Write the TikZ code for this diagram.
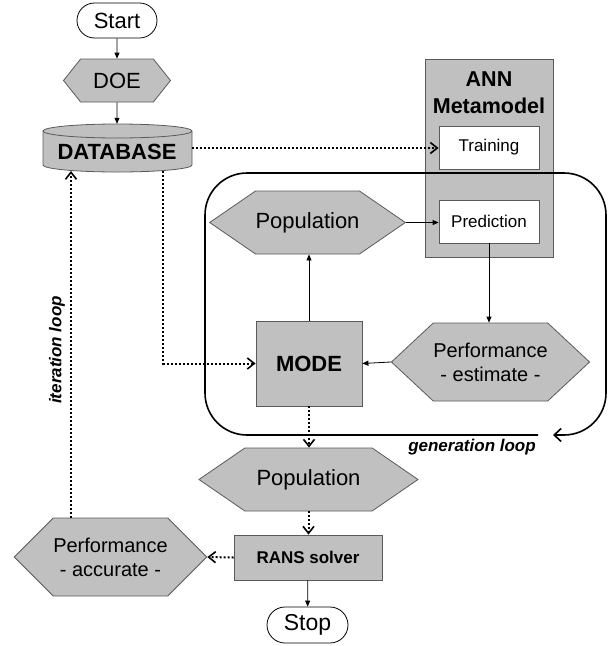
\documentclass[tikz,border=0pt]{standalone}
\usepackage{fontspec}
\setmainfont{Liberation Sans}
\usetikzlibrary{arrows.meta,shapes.misc,shapes.symbols,calc}
\definecolor{fillgray}{HTML}{C0C0C0}
\definecolor{edgegray}{HTML}{5A5A5A}

\tikzset{
  term/.style={rounded rectangle, draw=black, fill=white, line width=0.8pt, inner sep=0pt},
  hexa/.style={signal, signal to=west and east, draw=edgegray, fill=fillgray, line width=0.8pt, inner sep=0pt, align=center},
  graybox/.style={rectangle, draw=edgegray, fill=fillgray, line width=0.8pt, inner sep=0pt},
  whitebox/.style={rectangle, draw=edgegray, fill=white, line width=0.8pt, inner sep=0pt},
  flow/.style={draw=black, line width=0.8pt, -{Triangle[length=6pt,width=5pt]}},
  dotflow/.style={draw=black, line width=2pt, dash pattern=on 2pt off 2pt, -{Straight Barb[length=7pt,width=11pt,line width=1.6pt]}},
  looplabel/.style={font=\bfseries\itshape\fontsize{17}{20}\selectfont}
}

\begin{document}
\begin{tikzpicture}[x=1pt,y=-1pt]
  \useasboundingbox (0,0) rectangle (614,646);

  % database cylinder
  \path[draw=edgegray, fill=fillgray, line width=0.8pt] (43,131) -- (43,165)
    arc[start angle=180, end angle=0, x radius=74.5, y radius=7] -- (192,131)
    arc[start angle=0, end angle=-180, x radius=74.5, y radius=7] -- cycle;
  \draw[edgegray, line width=0.8pt] (43,131) arc[start angle=180, end angle=0, x radius=74.5, y radius=7];
  \node[minimum width=149pt, minimum height=48pt, inner sep=0pt] (db) at (117,148) {};
  \node[font=\bfseries\fontsize{22}{26}\selectfont] (dbtext) at (117,152) {DATABASE};

  \node[term, minimum width=80pt, minimum height=35pt, font=\fontsize{22}{26}\selectfont] (start) at (117,20.5) {Start};
  \node[hexa, signal pointer angle=103, minimum width=107pt, minimum height=43pt, font=\fontsize{22}{26}\selectfont] (doe) at (117,80.5) {DOE};

  % metamodel
  \node[graybox, minimum width=128pt, minimum height=198pt] (ann) at (489,158) {};
  \node[font=\bfseries\fontsize{21.5}{27}\selectfont, align=center] (anntitle) at (489,92.5) {ANN\\Metamodel};
  \node[whitebox, minimum width=100pt, minimum height=43pt, font=\fontsize{17}{20}\selectfont] (train) at (489,147.5) {Training};
  \node[whitebox, minimum width=100pt, minimum height=43pt, font=\fontsize{17}{20}\selectfont] (pred) at (489,221.5) {Prediction};

  % generation loop
  \draw[line width=1.6pt, rounded corners=42pt, -{Straight Barb[length=7pt,width=13pt,line width=1.6pt]}]
    (538,435) -- (205,435) -- (205,173) -- (606,173) -- (606,435) -- (553,435);
  \node[looplabel] (genloop) at (472,447) {generation loop};

  \node[hexa, signal pointer angle=69, minimum width=183pt, minimum height=63pt, font=\fontsize{22}{26}\selectfont] (pop1) at (307.5,222.5) {Population};
  \node[graybox, minimum width=106pt, minimum height=85pt, font=\bfseries\fontsize{22}{26}\selectfont] (mode) at (309,363.5) {MODE};
  \node[hexa, signal pointer angle=86, minimum width=191pt, minimum height=78pt, font=\fontsize{20}{24}\selectfont] (perfe) at (490.5,362) {Performance\\- estimate -};

  \node[hexa, signal pointer angle=69, minimum width=219pt, minimum height=63pt, font=\fontsize{22}{26}\selectfont] (pop2) at (308.5,479.5) {Population};
  \node[graybox, minimum width=148pt, minimum height=45pt, font=\bfseries\fontsize{17}{20}\selectfont] (rans) at (308,557.5) {RANS solver};
  \node[term, minimum width=81pt, minimum height=36pt, font=\fontsize{23}{26}\selectfont] (stop) at (307.5,625) {Stop};
  \node[hexa, signal pointer angle=90, minimum width=191pt, minimum height=78pt, font=\fontsize{20}{24}\selectfont] (perfa) at (110.5,557) {Performance\\- accurate -};

  \node[looplabel, rotate=90] (iterloop) at (57,350) {iteration loop};

  \coordinate (dbout) at (163,171);
  \coordinate (dbin) at (71,171);

  \draw[flow] (start) -- (doe);
  \draw[flow] (doe) -- (db);
  \draw[dotflow] (db.east) -- (db.east -| train.west);
  \draw[flow] (pop1.east) -- (pop1.east -| pred.west);
  \draw[flow] (pred.south) -- (pred.south |- perfe.north);
  \draw[flow] (perfe.west) -- (mode.east);
  \draw[flow] (mode.north) -- (mode.north |- pop1.south);
  \draw[dotflow] (dbout) |- (mode.west);
  \draw[dotflow] (mode.south) -- (mode.south |- pop2.north);
  \draw[dotflow] (pop2.south) -- (pop2.south |- rans.north);
  \draw[flow] (rans) -- (stop);
  \draw[dotflow] (rans.west) -- (perfa.east);
  \draw[dotflow] (perfa.north -| dbin) -- (dbin);
\end{tikzpicture}
\end{document}
